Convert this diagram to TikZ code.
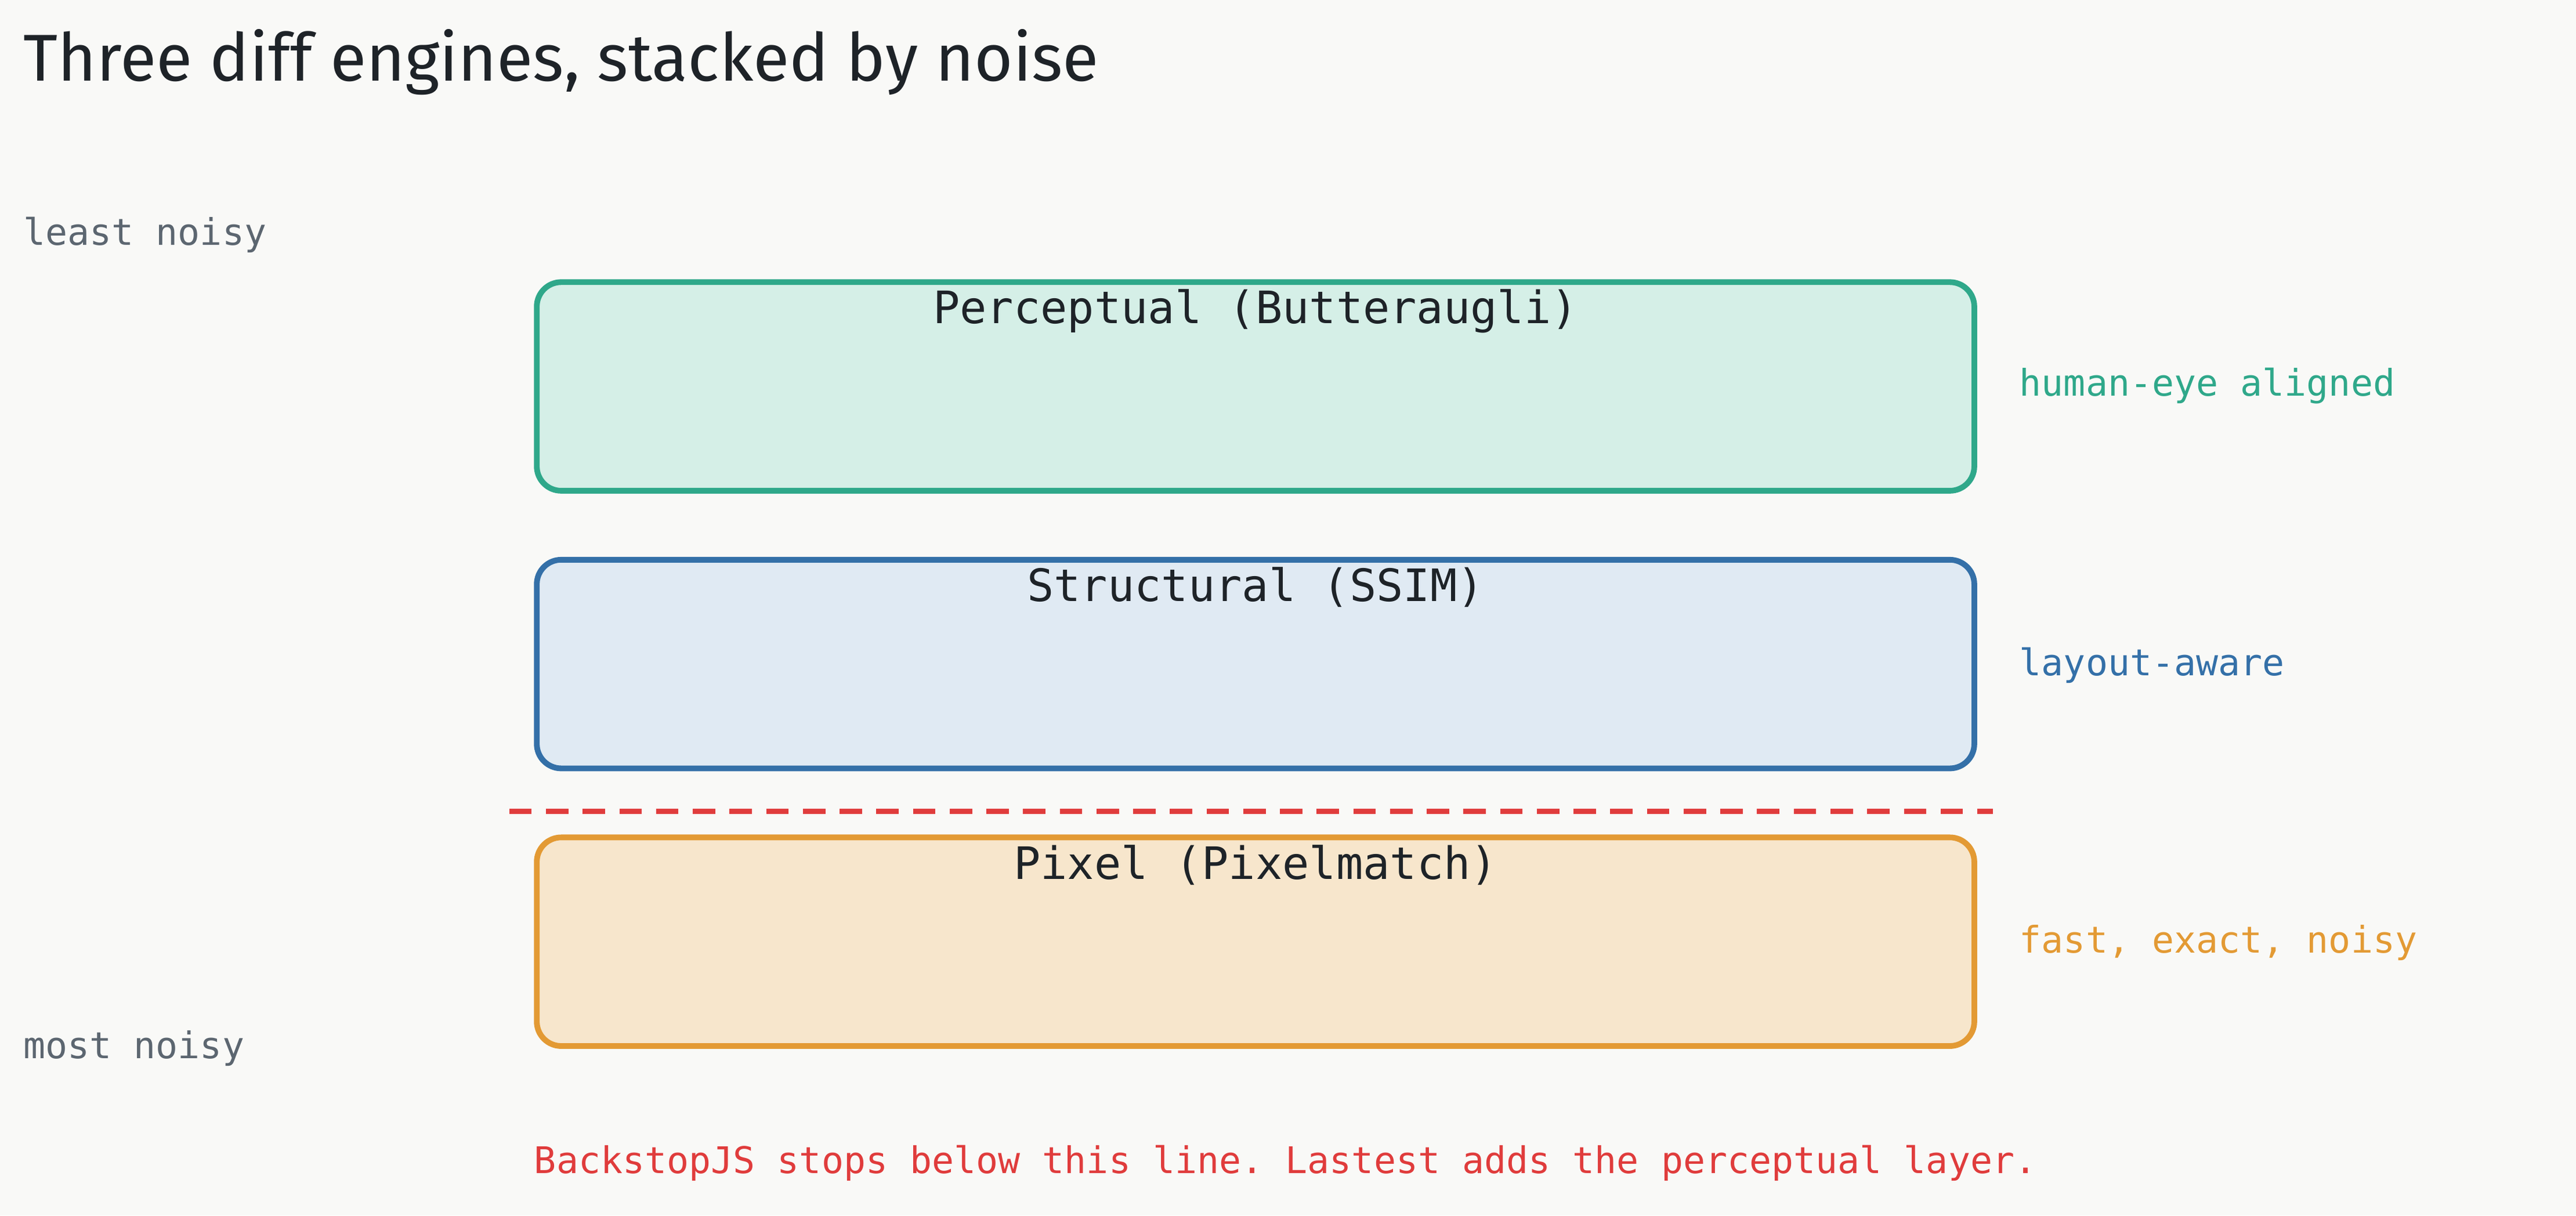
\documentclass[tikz,border=0pt]{standalone}
\usepackage{fontspec}
\setmainfont{Fira Sans}
\setmonofont{DejaVu Sans Mono}
\usetikzlibrary{positioning}
\definecolor{bg}{HTML}{F9F9F7}
\definecolor{greenline}{HTML}{2FA88A}
\definecolor{greenfill}{HTML}{D5EFE7}
\definecolor{blueline}{HTML}{3470A8}
\definecolor{bluefill}{HTML}{E0EAF3}
\definecolor{orangeline}{HTML}{E39A34}
\definecolor{orangefill}{HTML}{F7E6CC}
\definecolor{redline}{HTML}{E03C3C}
\definecolor{graytext}{HTML}{5C6670}
\definecolor{ink}{HTML}{1E2328}
\newlength{\pxu}
\setlength{\pxu}{0.02832cm}
\tikzset{
  engine/.style={draw, line width=2.8pt, rounded corners=12pt, minimum width=875\pxu, minimum height=127\pxu, anchor=north west},
  title/.style={font=\ttfamily\fontsize{21.9}{26}\selectfont, text=ink, anchor=north, inner sep=0pt},
  side/.style={font=\ttfamily\fontsize{18}{22}\selectfont, anchor=west, inner sep=0pt},
}
\begin{document}
\begin{tikzpicture}[x=\pxu, y=-\pxu]
    \fill[bg] (0,0) rectangle (1568,740);
    \useasboundingbox (0,0) rectangle (1568,740);

    % Heading and scale
    \node (head) [anchor=west, inner sep=0pt, font=\fontsize{32.5}{38}\selectfont, text=ink] at (14,38) {Three diff engines, stacked by noise};
    \node (least) [side, text=graytext] at (14,143) {least noisy};
    \node (most) [side, text=graytext] at (14,638) {most noisy};

    % Engines
    \node (percep) [engine, draw=greenline, fill=greenfill] at (325,170) {};
    \node (struct) [engine, draw=blueline, fill=bluefill] at (325,339) {};
    \node (pixel) [engine, draw=orangeline, fill=orangefill] at (325,508) {};
    \node [title] at ([yshift=-6\pxu]percep.north) {Perceptual (Butteraugli)};
    \node [title] at ([yshift=-6\pxu]struct.north) {Structural (SSIM)};
    \node [title] at ([yshift=-6\pxu]pixel.north) {Pixel (Pixelmatch)};

    % Side notes
    \node (percepnote) [side, text=greenline] at (1229,235) {human-eye aligned};
    \node (structnote) [side, text=blueline] at (1229,405) {layout-aware};
    \node (pixelnote) [side, text=orangeline] at (1229,574) {fast, exact, noisy};

    % Cut line
    \coordinate (cutl) at (310,494);
    \coordinate (cutr) at (1213,494);
    \draw[redline, line width=2.6pt, dash pattern=on 11pt off 7pt] (cutl) -- (cutr);
    \node (cutnote) [anchor=west, inner sep=0pt, text=redline, font=\ttfamily\fontsize{18}{22}\selectfont] at (325,708) {BackstopJS stops below this line. Lastest adds the perceptual layer.};
\end{tikzpicture}
\end{document}
